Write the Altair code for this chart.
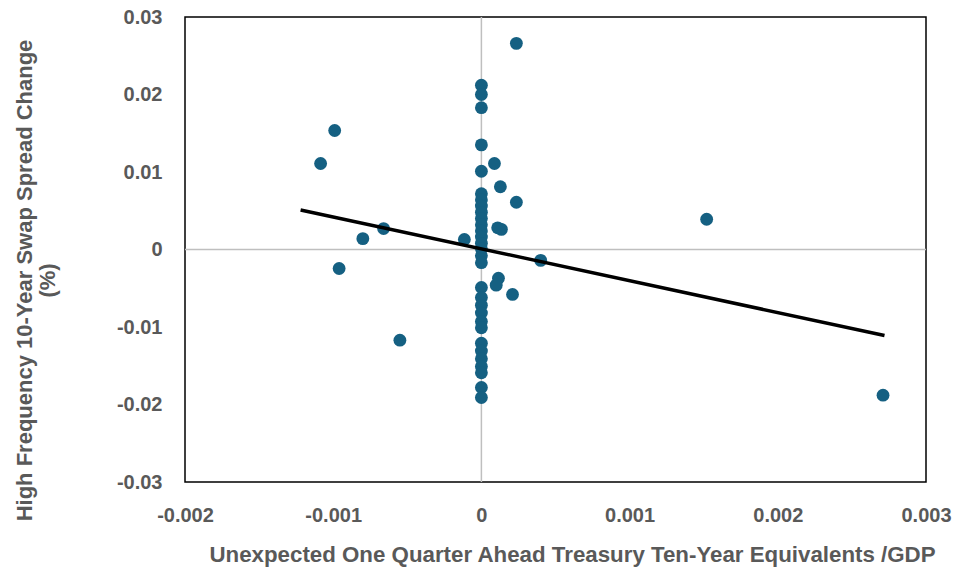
import altair as alt
import pandas as pd

# Scatter points (x: unexpected TTE/GDP, y: swap spread change %)
x_vals = [-0.00099, -0.001085, -0.00096, -0.00080, -0.00066, -0.00055, -0.000115,
          0.000236, 0.000088, 0.000128, 0.000236, 0.00011, 0.000135, 0.00040,
          0.000115, 0.00010, 0.00021, 0.00152, 0.00271]
y_vals = [0.01535, 0.0111, -0.00245, 0.0014, 0.0027, -0.0117, 0.0013,
          0.0266, 0.0111, 0.0081, 0.0061, 0.0028, 0.0026, -0.0014,
          -0.0037, -0.0046, -0.0058, 0.0039, -0.0188]

# Points sitting on x = 0
zero_col_y = [0.0212, 0.0200, 0.0183, 0.0135, 0.0101, 0.0072, 0.0064, 0.0056, 0.0048,
              0.0040, 0.0032, 0.0024, 0.0016, 0.0008, 0.0001, -0.0008, -0.0017,
              -0.0049, -0.0062, -0.0072, -0.0082, -0.0093, -0.0101, -0.0121, -0.0131,
              -0.0141, -0.0151, -0.0159, -0.0178, -0.0191]

# Linear trend line endpoints
trend_x = [-0.00122, 0.00272]
trend_y = [0.0051, -0.0111]

x_ticks = [-0.002, -0.001, 0, 0.001, 0.002, 0.003]
y_ticks = [-0.03, -0.02, -0.01, 0, 0.01, 0.02, 0.03]

pts = pd.DataFrame({"x": x_vals + [0.0] * len(zero_col_y), "y": y_vals + zero_col_y})
trend = pd.DataFrame({"x": trend_x, "y": trend_y})
zero = pd.DataFrame({"v": [0]})

GREY = "#595959"
FONT = "Liberation Sans"
XS = alt.Scale(domain=[-0.002, 0.003], nice=False, zero=False)
YS = alt.Scale(domain=[-0.03, 0.03], nice=False, zero=False)

x_axis = alt.Axis(
    values=x_ticks, title="Unexpected One Quarter Ahead Treasury Ten-Year Equivalents /GDP",
    labelExpr="datum.value == 0 ? '0' : replace(format(datum.value, '.3f'), '\u2212', '-')",
    grid=False, ticks=False, domain=False, labelPadding=23, labelFlush=False, labelOverlap=False,
    labelBound=False,
    labelFont=FONT, labelFontSize=20, labelFontWeight="bold", labelColor=GREY,
    titleFont=FONT, titleFontSize=22.3, titleFontWeight="bold", titleColor=GREY,
    titleX=387, titleY=72, titleBaseline="middle", titleAnchor="middle",
)
y_axis = alt.Axis(
    values=y_ticks, title=["High Frequency 10-Year Swap Spread  Change", "(%)"],
    labelExpr="datum.value == 0 ? '0' : replace(format(datum.value, '.2f'), '\u2212', '-')",
    grid=False, ticks=False, domain=False, labelPadding=23, labelFlush=False, labelOverlap=False,
    labelBound=False,
    labelFont=FONT, labelFontSize=20, labelFontWeight="bold", labelColor=GREY,
    titleFont=FONT, titleFontSize=22, titleFontWeight="bold", titleColor=GREY,
    titleX=-161, titleY=263, titleAngle=-90, titleAnchor="middle", titleAlign="center",
    titleBaseline="middle", titleLineHeight=23,
)

vline = alt.Chart(zero).mark_rule(color="#bfbfbf", strokeWidth=1.5).encode(x=alt.X("v:Q", scale=XS, axis=x_axis))
hline = alt.Chart(zero).mark_rule(color="#bfbfbf", strokeWidth=1.5).encode(y=alt.Y("v:Q", scale=YS, axis=y_axis))

dots = alt.Chart(pts).mark_circle(size=165, opacity=1, color="#156082").encode(
    x=alt.X("x:Q", scale=XS, axis=x_axis), y=alt.Y("y:Q", scale=YS, axis=y_axis)
)
line = alt.Chart(trend).mark_line(color="black", strokeWidth=3.5).encode(
    x=alt.X("x:Q", scale=XS, axis=x_axis), y=alt.Y("y:Q", scale=YS, axis=y_axis)
)

chart = alt.layer(vline, hline, dots, line).properties(
    width=741, height=465,
    autosize=alt.AutoSizeParams(type="none"),
    padding={"left": 185, "top": 17, "right": 30, "bottom": 87},
    background="white",
).configure_view(stroke="black", strokeWidth=1.5)

chart.save("out.html", embed_options={"renderer": "svg", "actions": False})
